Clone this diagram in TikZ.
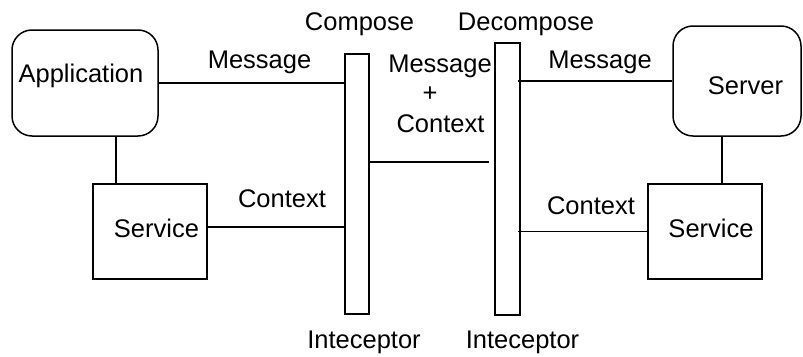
\documentclass[tikz,border=0pt]{standalone}
\usepackage{fontspec}
\setmainfont{Liberation Sans}
\begin{document}
\begin{tikzpicture}[x=1pt,y=-1pt,
  box/.style={draw,line width=1.5pt,inner sep=0pt},
  rbox/.style={box,rounded corners=20pt},
  bar/.style={draw,line width=1.5pt,inner sep=0pt,minimum width=24pt},
  conn/.style={line width=1.1pt},
  lbl/.style={anchor=base,inner sep=0pt,font=\fontsize{25.5}{30}\selectfont}]
\useasboundingbox (0,0) rectangle (803,356);
% boxes
\node[rbox,minimum width=146pt,minimum height=106pt] (app) at (85,83) {};
\node[box,minimum width=114pt,minimum height=95pt] (svcL) at (150,231.5) {};
\node[rbox,minimum width=128pt,minimum height=110pt] (srv) at (737,81) {};
\node[box,minimum width=114pt,minimum height=95pt] (svcR) at (705,231.5) {};
% bars
\node[bar,minimum height=260pt] (cbar) at (357,184) {};
\node[bar,minimum width=25pt,minimum height=272pt] (dbar) at (507.5,179) {};
% texts
\node[lbl] (tapp) at (81,82) {Application};
\node[lbl] (tsvcL) at (156.5,237) {Service};
\node[lbl] (tsrv) at (745.5,94) {Server};
\node[lbl] (tsvcR) at (711,237) {Service};
\node[lbl] (tcomp) at (359.5,30) {Compose};
\node[lbl] (tdecomp) at (526,30) {Decompose};
\node[lbl] (tint1) at (364,348) {Inteceptor};
\node[lbl] (tint2) at (522.5,348) {Inteceptor};
\node[lbl] (tmsg1) at (259.5,68) {Message};
\node[lbl] (tmsg2) at (600,68) {Message};
\node[lbl] (tmsg3) at (440,72) {Message};
\node[lbl] (tplus) at (430,101) {+};
\node[lbl] (tctx3) at (440.5,132) {Context};
\node[lbl] (tctx1) at (282,207) {Context};
\node[lbl] (tctx2) at (591,214) {Context};
% connectors
\draw[conn] (app.east) -- (app.east -| cbar.west);
\draw[conn] ([xshift=31pt]app.south) -- ([xshift=31pt]app.south |- svcL.north);
\draw[conn] ([yshift=4.5pt]svcL.east) -- ([yshift=4.5pt]svcL.east -| cbar.west);
\draw[conn] ([yshift=22pt]cbar.east) -- ([yshift=22pt,xshift=-5pt]cbar.east -| dbar.west);
\draw[conn] ([yshift=98pt,xshift=-3pt]dbar.east) -- ([yshift=98pt]dbar.east -| srv.west);
\draw[conn] ([xshift=-15pt]srv.south) -- ([xshift=-15pt]srv.south |- svcR.north);
\draw[conn] (svcR.west) -- ([xshift=-3pt]svcR.west -| dbar.east);
\end{tikzpicture}
\end{document}
